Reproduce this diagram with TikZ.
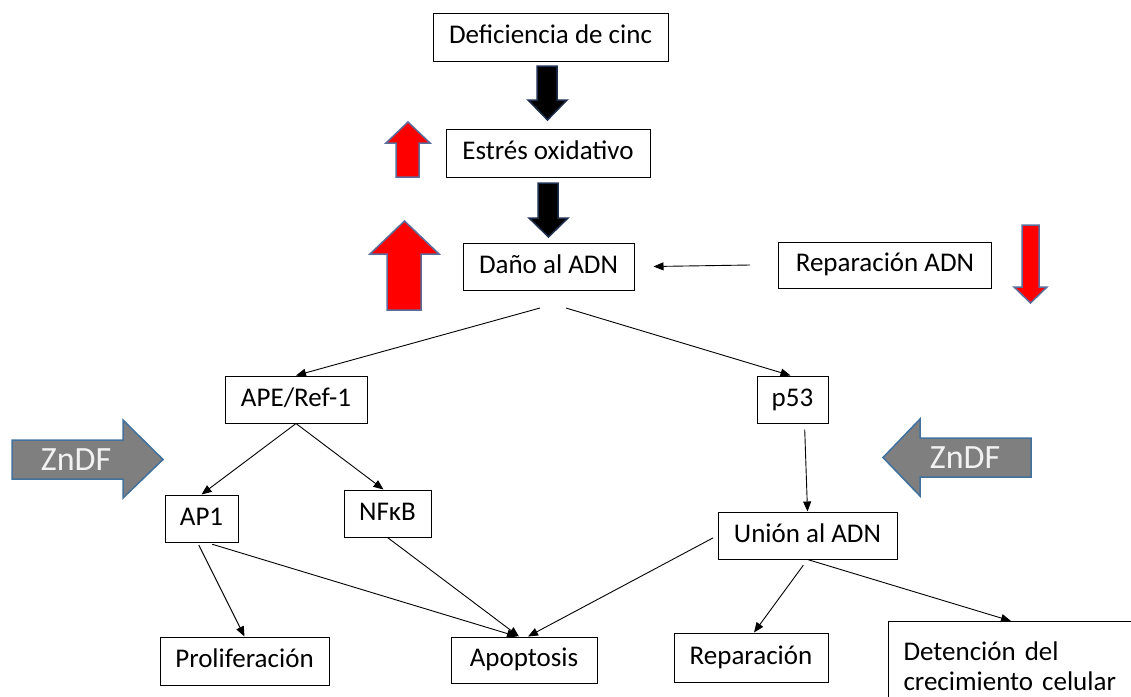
\documentclass[tikz,border=0pt]{standalone}
\usepackage{fontspec}
\setmainfont{Carlito}
\usetikzlibrary{arrows.meta}
\definecolor{zgray}{HTML}{7F7F7F}
\definecolor{zborder}{HTML}{41719C}
\definecolor{ztext}{HTML}{F2F2F2}
\definecolor{redborder}{HTML}{5B6D9B}
\definecolor{darkborder}{HTML}{1F2F4F}

\begin{document}
\begin{tikzpicture}[x=1pt,y=-1pt]
\tikzstyle{every node}+=[inner sep=0pt, font=\fontsize{27}{30}\selectfont]
\tikzstyle{box}=[draw=black, line width=1pt, fill=white, text height=18pt, text depth=5pt]
\tikzstyle{link}=[line width=0.9pt, -{Triangle[length=10pt,width=8pt]}]
\tikzstyle{redarrow}=[fill=red, draw=redborder, line width=1.5pt, line join=miter]
\tikzstyle{blackarrow}=[fill=black, draw=darkborder, line width=1.5pt, line join=miter]
\tikzstyle{zarrow}=[fill=zgray, draw=zborder, line width=1.5pt, line join=miter]
\tikzstyle{zlabel}=[text=ztext, font=\fontsize{34}{36}\selectfont]
\useasboundingbox (0,0) rectangle (1131,696);
\clip (0,0) rectangle (1131,696);

% top chain
\node[box, minimum width=235pt, minimum height=48pt] (defic) at (550.5,37) {Deficiencia de cinc};
\draw[blackarrow] (537,66) -- (557,66) -- (557,100) -- (567,100) -- (547.5,120) -- (528,100) -- (537,100) -- cycle;
\node[box, minimum width=204pt, minimum height=48pt] (estres) at (548,153) {Estrés oxidativo};
\draw[redarrow] (396,177) -- (396,143) -- (386,143) -- (408,122) -- (430,143) -- (419,143) -- (419,177) -- cycle;
\draw[blackarrow] (538,183) -- (558,183) -- (558,218) -- (568,218) -- (548.5,237) -- (529,218) -- (538,218) -- cycle;
\node[box, minimum width=171pt, minimum height=47pt] (dano) at (548.5,266.5) {Daño al ADN};
\draw[redarrow] (387,310) -- (387,254) -- (370,254) -- (404.5,221) -- (439,254) -- (421,254) -- (421,310) -- cycle;

\node[box, minimum width=213pt, minimum height=46pt] (repadn) at (885,265) {Reparación ADN};
\draw[link] (repadn.west) ++(-28,0) coordinate (rpw) (rpw) -- ([xshift=19pt]dano.east);
\draw[redarrow] (1022,225) -- (1039,225) -- (1039,287) -- (1047,287) -- (1030.5,303) -- (1014,287) -- (1022,287) -- cycle;

% split
\coordinate (dnL) at (540,308);
\coordinate (dnR) at (566,308);
\node[box, minimum width=142pt, minimum height=47pt] (ape) at (296,399.5) {APE/Ref-1};
\node[box, minimum width=71pt, minimum height=47pt] (p53) at (792.5,399.5) {p53};
\draw[link] (dnL) -- (ape.north);
\draw[link] (dnR) -- ([xshift=-2pt]p53.north);

% left branch
\draw[zarrow] (12,440) -- (123,440) -- (123,420) -- (163,459.5) -- (123,498) -- (123,479) -- (12,479) -- cycle;
\node[zlabel] (zleft) at (76,460) {ZnDF};
\node[box, minimum width=73pt, minimum height=47pt] (ap1) at (201.5,518.5) {AP1};
\node[box, minimum width=87pt, minimum height=47pt] (nfkb) at (387.5,513.5) {NFκB};
\draw[link] (ape.south) -- (ap1.north);
\draw[link] (ape.south) -- ([xshift=-4pt]nfkb.north);
\node[box, minimum width=169pt, minimum height=48pt] (prolif) at (244.5,661) {Proliferación};
\node[box, minimum width=146pt, minimum height=46pt] (apop) at (524,660) {Apoptosis};
\draw[link, shorten <=3pt] ([xshift=-4pt]ap1.south) -- (prolif.north);
\draw[link, shorten <=6pt] ([xshift=5pt]ap1.south) -- ([xshift=-7pt]apop.north);
\draw[link] (nfkb.south) -- ([xshift=-5pt]apop.north);

% right branch
\draw[zarrow] (1031,438) -- (920,438) -- (920,419) -- (883,457.5) -- (920,496) -- (920,477) -- (1031,477) -- cycle;
\node[zlabel] (zright) at (965,458) {ZnDF};
\node[box, minimum width=179pt, minimum height=47pt] (union) at (807.5,535.5) {Unión al ADN};
\draw[link, shorten <=6pt] ([xshift=12pt]p53.south) -- (union.north);
\draw[link, shorten <=5pt] (union.west) -- ([xshift=4pt]apop.north);
\node[box, minimum width=154pt, minimum height=49pt] (repar) at (751,657.5) {Reparación};
\node[draw=black, line width=1pt, fill=white, anchor=north west, minimum width=300pt, text width=270pt, text depth=50pt, align=left, inner xsep=15pt, inner ysep=20pt] (deten) at (888,621) {Detención del\\crecimiento celular};
\draw[link, shorten <=7pt] (union.south) -- ([xshift=3pt]repar.north);
\draw[link] (union.south) -- ([xshift=123pt]deten.north west);
\end{tikzpicture}
\end{document}
